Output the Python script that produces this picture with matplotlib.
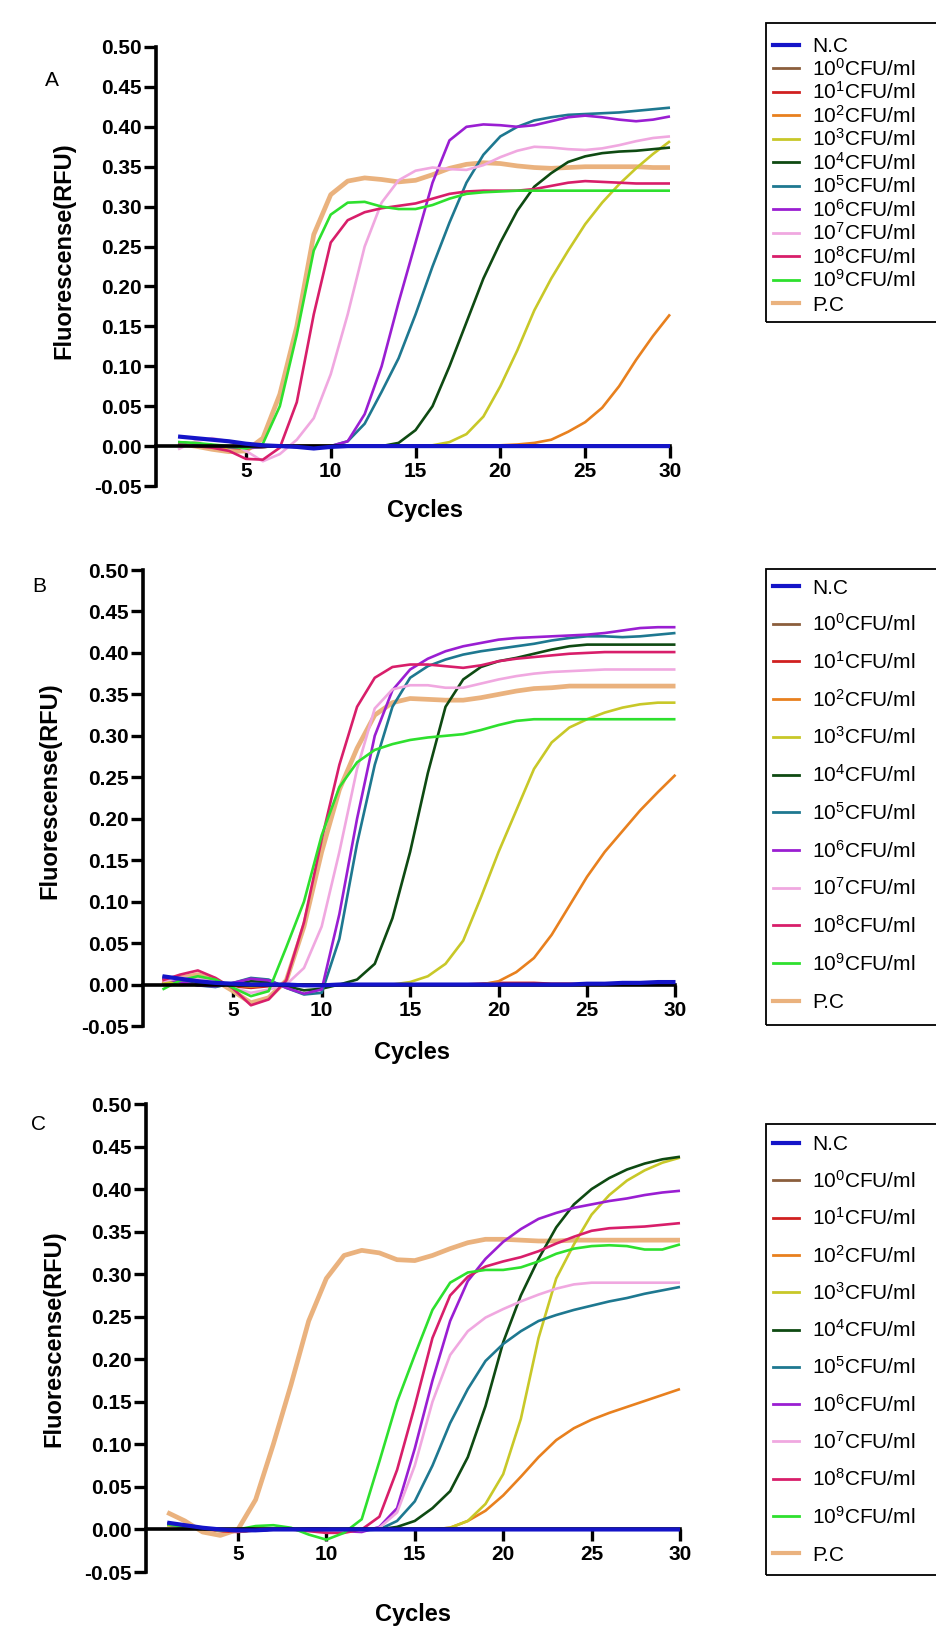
import matplotlib as mpl
mpl.use("Agg")
import matplotlib.pyplot as plt
from matplotlib.lines import Line2D
from matplotlib.patches import Rectangle

W, H = 937, 1627

mpl.rcParams.update({
    "font.family": "sans-serif",
    "font.sans-serif": ["Liberation Sans", "DejaVu Sans"],
    "mathtext.fontset": "custom",
    "mathtext.rm": "Liberation Sans",
    "mathtext.default": "regular",
    "axes.unicode_minus": False,
})

CYCLES = list(range(1, 31))
XTICKS = [5, 10, 15, 20, 25, 30]
YTICKS = [-0.05, 0.00, 0.05, 0.10, 0.15, 0.20, 0.25, 0.30, 0.35, 0.40, 0.45, 0.50]
YTICK_LABELS = ["-0.05", "0.00", "0.05", "0.10", "0.15", "0.20", "0.25",
                "0.30", "0.35", "0.40", "0.45", "0.50"]

SERIES = ["N.C", "1e0", "1e1", "1e2", "1e3", "1e4", "1e5", "1e6", "1e7", "1e8", "1e9", "P.C"]
LABELS = ["N.C"] + [f"10$^{{{k}}}$CFU/ml" for k in range(10)] + ["P.C"]
COLORS = ["#1414c8", "#8b5e3c", "#d02020", "#e8801e", "#c8c828", "#0e4a12",
          "#1e7890", "#9a1ed2", "#f0a8e0", "#d81e6a", "#2ee02e", "#eab27e"]

# ---- panel A ----
A_NC = [0.012, 0.010, 0.008, 0.006, 0.003, 0.001, 0.000, -0.001, -0.003, -0.001,
        0.000, 0.000, 0.000, 0.000, 0.000, 0.000, 0.000, 0.000, 0.000, 0.000,
        0.000, 0.000, 0.000, 0.000, 0.000, 0.000, 0.000, 0.000, 0.000, 0.000]
A_E0 = [0.004, 0.003, 0.001, -0.001, -0.002, -0.001, 0.000, 0.000, 0.000, 0.000,
        0.000, 0.000, 0.000, 0.000, 0.000, 0.000, 0.000, 0.000, 0.000, 0.000,
        0.000, 0.000, 0.000, 0.000, 0.000, 0.000, 0.000, 0.000, 0.000, 0.000]
A_E1 = [0.003, 0.002, 0.000, -0.002, -0.003, -0.001, 0.000, 0.000, 0.000, 0.000,
        0.000, 0.000, 0.000, 0.000, 0.000, 0.000, 0.000, 0.000, 0.000, 0.000,
        0.000, 0.000, 0.000, 0.000, 0.000, 0.000, 0.000, 0.000, 0.000, 0.000]
A_E2 = [0.002, 0.001, 0.000, -0.002, -0.002, -0.001, 0.000, 0.000, 0.000, 0.000,
        0.000, 0.000, 0.000, 0.000, 0.000, 0.000, 0.000, 0.000, 0.000, 0.001,
        0.002, 0.004, 0.008, 0.018, 0.030, 0.048, 0.075, 0.108, 0.138, 0.165]
A_E3 = [0.003, 0.002, 0.000, -0.002, -0.002, -0.001, 0.000, 0.000, 0.000, 0.000,
        0.000, 0.000, 0.000, 0.000, 0.000, 0.001, 0.005, 0.015, 0.037, 0.075,
        0.120, 0.170, 0.210, 0.245, 0.278, 0.305, 0.328, 0.348, 0.366, 0.382]
A_E4 = [0.004, 0.003, 0.001, -0.001, -0.002, -0.001, 0.000, 0.000, 0.000, 0.000,
        0.000, 0.000, 0.000, 0.004, 0.020, 0.050, 0.100, 0.155, 0.210, 0.255,
        0.295, 0.325, 0.342, 0.356, 0.363, 0.367, 0.369, 0.370, 0.372, 0.374]
A_E5 = [0.005, 0.003, 0.001, -0.001, -0.002, -0.001, 0.000, -0.001, -0.002, 0.000,
        0.006, 0.028, 0.068, 0.110, 0.165, 0.225, 0.280, 0.330, 0.365, 0.388,
        0.400, 0.408, 0.412, 0.415, 0.416, 0.417, 0.418, 0.420, 0.422, 0.424]
A_E6 = [0.004, 0.003, 0.001, -0.001, -0.002, -0.001, 0.000, -0.001, -0.003, 0.000,
        0.006, 0.040, 0.100, 0.180, 0.255, 0.330, 0.383, 0.400, 0.403, 0.402,
        0.400, 0.402, 0.407, 0.412, 0.414, 0.412, 0.409, 0.407, 0.409, 0.413]
A_E7 = [-0.004, 0.006, 0.010, 0.006, -0.006, -0.019, -0.010, 0.008, 0.035, 0.090,
        0.165, 0.250, 0.305, 0.333, 0.345, 0.349, 0.347, 0.346, 0.352, 0.362,
        0.370, 0.375, 0.374, 0.372, 0.371, 0.373, 0.377, 0.382, 0.386, 0.388]
A_E8 = [0.002, 0.000, -0.002, -0.006, -0.016, -0.017, -0.002, 0.055, 0.165, 0.255,
        0.283, 0.293, 0.298, 0.301, 0.304, 0.310, 0.316, 0.319, 0.320, 0.320,
        0.320, 0.322, 0.326, 0.330, 0.332, 0.331, 0.330, 0.329, 0.329, 0.329]
A_E9 = [0.005, 0.004, 0.002, 0.000, -0.003, 0.003, 0.050, 0.140, 0.245, 0.290,
        0.305, 0.306, 0.300, 0.297, 0.297, 0.302, 0.310, 0.316, 0.318, 0.319,
        0.320, 0.320, 0.320, 0.320, 0.320, 0.320, 0.320, 0.320, 0.320, 0.320]
A_PC = [0.003, 0.000, -0.004, -0.007, -0.006, 0.010, 0.065, 0.150, 0.265, 0.315,
        0.332, 0.336, 0.334, 0.331, 0.333, 0.340, 0.348, 0.353, 0.355, 0.354,
        0.351, 0.349, 0.348, 0.349, 0.350, 0.350, 0.350, 0.350, 0.349, 0.349]

# ---- panel B ----
B_NC = [0.010, 0.007, 0.004, 0.002, 0.001, 0.000, 0.000, 0.000, -0.001, -0.001,
        0.000, 0.000, 0.000, 0.000, 0.000, 0.000, 0.000, 0.000, 0.000, 0.000,
        0.000, 0.000, 0.000, 0.000, 0.001, 0.001, 0.002, 0.002, 0.003, 0.003]
B_E0 = [0.006, 0.004, 0.002, 0.000, -0.002, -0.003, -0.001, 0.000, 0.000, 0.000,
        0.000, 0.000, 0.000, 0.000, 0.000, 0.000, 0.000, 0.000, 0.000, 0.000,
        0.000, 0.000, 0.000, 0.000, 0.000, 0.000, 0.000, 0.000, 0.000, 0.000]
B_E1 = [0.004, 0.006, 0.005, 0.002, -0.002, -0.004, -0.002, 0.000, 0.000, 0.000,
        0.000, 0.000, 0.000, 0.000, 0.000, 0.000, 0.000, 0.000, 0.001, 0.002,
        0.002, 0.002, 0.001, 0.001, 0.000, 0.000, 0.000, 0.000, 0.000, 0.000]
B_E2 = [0.003, 0.002, 0.001, 0.000, -0.001, -0.002, -0.001, 0.000, 0.000, 0.000,
        0.000, 0.000, 0.000, 0.000, 0.000, 0.000, 0.000, 0.000, 0.000, 0.004,
        0.015, 0.032, 0.060, 0.095, 0.130, 0.160, 0.185, 0.210, 0.232, 0.253]
B_E3 = [0.003, 0.002, 0.001, 0.000, -0.001, -0.002, -0.001, 0.000, 0.000, 0.000,
        0.000, 0.000, 0.000, 0.000, 0.003, 0.010, 0.025, 0.053, 0.105, 0.160,
        0.210, 0.260, 0.292, 0.310, 0.320, 0.328, 0.334, 0.338, 0.340, 0.340]
B_E4 = [0.008, 0.004, 0.000, -0.002, 0.000, 0.004, 0.003, -0.002, -0.007, -0.005,
        0.000, 0.006, 0.025, 0.080, 0.160, 0.255, 0.335, 0.368, 0.383, 0.390,
        0.394, 0.399, 0.404, 0.408, 0.410, 0.410, 0.410, 0.410, 0.410, 0.410]
B_E5 = [0.010, 0.004, -0.001, -0.003, 0.002, 0.008, 0.006, -0.004, -0.012, -0.010,
        0.055, 0.170, 0.265, 0.335, 0.370, 0.384, 0.392, 0.398, 0.402, 0.405,
        0.408, 0.411, 0.415, 0.418, 0.420, 0.420, 0.419, 0.420, 0.422, 0.424]
B_E6 = [0.008, 0.003, -0.001, -0.002, 0.002, 0.007, 0.005, -0.004, -0.011, -0.006,
        0.085, 0.200, 0.300, 0.355, 0.380, 0.393, 0.402, 0.408, 0.412, 0.416,
        0.418, 0.419, 0.420, 0.421, 0.422, 0.424, 0.427, 0.430, 0.431, 0.431]
B_E7 = [0.004, 0.008, 0.008, 0.003, -0.004, -0.010, -0.006, 0.000, 0.020, 0.070,
        0.160, 0.260, 0.333, 0.356, 0.361, 0.361, 0.358, 0.358, 0.363, 0.368,
        0.372, 0.375, 0.377, 0.378, 0.379, 0.380, 0.380, 0.380, 0.380, 0.380]
B_E8 = [0.005, 0.012, 0.017, 0.008, -0.005, -0.025, -0.018, 0.005, 0.075, 0.175,
        0.265, 0.335, 0.370, 0.383, 0.386, 0.386, 0.384, 0.382, 0.385, 0.390,
        0.393, 0.395, 0.397, 0.399, 0.400, 0.401, 0.401, 0.401, 0.401, 0.401]
B_E9 = [-0.006, 0.005, 0.010, 0.006, -0.004, -0.014, -0.008, 0.045, 0.100, 0.180,
        0.238, 0.268, 0.283, 0.290, 0.295, 0.298, 0.300, 0.302, 0.307, 0.313,
        0.318, 0.320, 0.320, 0.320, 0.320, 0.320, 0.320, 0.320, 0.320, 0.320]
B_PC = [0.000, 0.008, 0.012, 0.005, -0.008, -0.022, -0.016, 0.005, 0.070, 0.160,
        0.235, 0.285, 0.325, 0.340, 0.345, 0.344, 0.343, 0.343, 0.346, 0.350,
        0.354, 0.357, 0.358, 0.360, 0.360, 0.360, 0.360, 0.360, 0.360, 0.360]

# ---- panel C ----
C_NC = [0.008, 0.005, 0.002, 0.000, -0.001, -0.001, 0.000, 0.000, 0.000, 0.000,
        0.000, 0.000, 0.000, 0.000, 0.000, 0.000, 0.000, 0.000, 0.000, 0.000,
        0.000, 0.000, 0.000, 0.000, 0.000, 0.000, 0.000, 0.000, 0.000, 0.000]
C_E0 = [0.006, 0.004, 0.001, -0.001, -0.002, -0.001, 0.000, 0.000, 0.000, 0.000,
        0.000, 0.000, 0.000, 0.000, 0.000, 0.000, 0.000, 0.000, 0.000, 0.000,
        0.000, 0.000, 0.000, 0.000, 0.000, 0.000, 0.000, 0.000, 0.000, 0.000]
C_E1 = [0.007, 0.004, 0.001, -0.002, -0.003, -0.001, 0.000, 0.000, 0.000, 0.000,
        0.000, 0.000, 0.000, 0.000, 0.000, 0.000, 0.000, 0.000, 0.000, 0.000,
        0.000, 0.000, 0.000, 0.000, 0.000, 0.000, 0.000, 0.000, 0.000, 0.000]
C_E2 = [0.005, 0.003, 0.001, -0.001, -0.002, -0.001, 0.000, 0.000, 0.000, 0.000,
        0.000, 0.000, 0.000, 0.000, 0.000, 0.000, 0.002, 0.010, 0.022, 0.040,
        0.062, 0.085, 0.105, 0.119, 0.129, 0.137, 0.144, 0.151, 0.158, 0.165]
C_E3 = [0.005, 0.003, 0.001, -0.001, -0.002, -0.001, 0.000, 0.000, 0.000, 0.000,
        0.000, 0.000, 0.000, 0.000, 0.000, 0.000, 0.002, 0.010, 0.030, 0.065,
        0.130, 0.225, 0.295, 0.335, 0.370, 0.393, 0.410, 0.422, 0.431, 0.437]
C_E4 = [0.006, 0.003, 0.001, -0.001, -0.002, -0.001, 0.000, 0.000, 0.000, 0.000,
        0.000, 0.000, 0.000, 0.003, 0.010, 0.025, 0.045, 0.085, 0.145, 0.220,
        0.275, 0.318, 0.355, 0.382, 0.400, 0.413, 0.423, 0.430, 0.435, 0.438]
C_E5 = [0.007, 0.004, 0.001, -0.001, -0.002, -0.001, 0.000, 0.000, -0.001, -0.002,
        -0.002, -0.001, 0.000, 0.010, 0.033, 0.075, 0.125, 0.165, 0.198, 0.218,
        0.233, 0.245, 0.252, 0.258, 0.263, 0.268, 0.272, 0.277, 0.281, 0.285]
C_E6 = [0.007, 0.004, 0.001, -0.001, -0.002, -0.001, 0.000, 0.000, 0.001, 0.001,
        -0.002, -0.003, 0.003, 0.025, 0.095, 0.175, 0.245, 0.292, 0.318, 0.338,
        0.353, 0.365, 0.372, 0.378, 0.382, 0.386, 0.389, 0.393, 0.396, 0.398]
C_E7 = [0.006, 0.003, 0.001, -0.001, -0.002, -0.001, 0.000, 0.000, 0.000, -0.001,
        -0.002, -0.001, 0.002, 0.020, 0.075, 0.150, 0.205, 0.233, 0.249, 0.259,
        0.268, 0.276, 0.283, 0.288, 0.290, 0.290, 0.290, 0.290, 0.290, 0.290]
C_E8 = [0.006, 0.003, 0.001, -0.001, -0.002, -0.001, 0.000, 0.000, -0.002, -0.004,
        -0.004, 0.000, 0.015, 0.070, 0.145, 0.225, 0.275, 0.297, 0.309, 0.315,
        0.320, 0.327, 0.336, 0.344, 0.351, 0.354, 0.355, 0.356, 0.358, 0.360]
C_E9 = [0.006, 0.003, 0.001, -0.001, 0.000, 0.004, 0.005, 0.002, -0.006, -0.012,
        -0.004, 0.012, 0.080, 0.150, 0.205, 0.258, 0.290, 0.302, 0.305, 0.305,
        0.308, 0.315, 0.324, 0.330, 0.333, 0.334, 0.333, 0.329, 0.329, 0.335]
C_PC = [0.020, 0.010, -0.003, -0.007, 0.000, 0.035, 0.100, 0.170, 0.245, 0.295,
        0.322, 0.328, 0.325, 0.317, 0.316, 0.322, 0.330, 0.337, 0.341, 0.341,
        0.340, 0.339, 0.339, 0.340, 0.340, 0.340, 0.340, 0.340, 0.340, 0.340]

PANELS = [
    ("A", [A_NC, A_E0, A_E1, A_E2, A_E3, A_E4, A_E5, A_E6, A_E7, A_E8, A_E9, A_PC]),
    ("B", [B_NC, B_E0, B_E1, B_E2, B_E3, B_E4, B_E5, B_E6, B_E7, B_E8, B_E9, B_PC]),
    ("C", [C_NC, C_E0, C_E1, C_E2, C_E3, C_E4, C_E5, C_E6, C_E7, C_E8, C_E9, C_PC]),
]

# layout, in pixels of the 937x1627 figure
AX_PX = {  # left, right, top, bottom, xmin
    "A": (156, 670, 47, 486, -0.3),
    "B": (143, 675.5, 570, 1026, -0.1),
    "C": (146, 680, 1104, 1572, -0.2),
}
LETTER_PX = {"A": (52, 81), "B": (39, 587), "C": (39, 1124)}
XLABEL_PX = {"A": (425, 510), "B": (412, 1052), "C": (413, 1615)}
YLABEL_PX = {"A": (64, 251), "B": (50, 791), "C": (54, 1339)}
LEGEND_PX = {  # box top, box bottom, first row y, row step
    "A": (23, 322, 44.6, 23.5),
    "B": (569, 1025, 586, 37.7),
    "C": (1124, 1575, 1143, 37.3),
}


def fx(x):
    return x / W


def fy(y):
    return 1 - y / H


fig = plt.figure(figsize=(W / 100, H / 100), dpi=100)

for name, values in PANELS:
    left, right, top, bottom, xmin = AX_PX[name]
    ax = fig.add_axes([fx(left), fy(bottom), (right - left) / W, (bottom - top) / H])

    # P.C underneath, N.C on top
    order = [11] + list(range(1, 11)) + [0]
    for i in order:
        lw = 3.4 if i == 11 else (3.0 if i == 0 else 1.9)
        z = 2 if i == 11 else (5 if i == 0 else 3)
        ax.plot(CYCLES, values[i], color=COLORS[i], lw=lw, zorder=z,
                solid_capstyle="butt", clip_on=False)

    ax.set_xlim(xmin, 30)
    ax.set_ylim(-0.05, 0.5)
    ax.set_xticks(XTICKS)
    ax.set_yticks(YTICKS)
    ax.set_yticklabels(YTICK_LABELS)
    ax.spines["top"].set_visible(False)
    ax.spines["right"].set_visible(False)
    ax.spines["bottom"].set_position(("data", 0))
    for s in ("left", "bottom"):
        ax.spines[s].set_linewidth(2.6)
        ax.spines[s].set_zorder(4)
    ax.tick_params(axis="both", direction="out", length=8.5, width=2.4,
                   labelsize=15, pad=2)
    ax.tick_params(axis="x", pad=3)
    for lab in ax.get_xticklabels() + ax.get_yticklabels():
        lab.set_fontweight("bold")
    ax.patch.set_alpha(0)

    lx, ly = LETTER_PX[name]
    fig.text(fx(lx), fy(ly), name, fontsize=15, ha="center", va="center")
    cx, cy = XLABEL_PX[name]
    fig.text(fx(cx), fy(cy), "Cycles", fontsize=17, fontweight="bold",
             ha="center", va="center")
    yx, yy = YLABEL_PX[name]
    fig.text(fx(yx), fy(yy), "Fluorescense(RFU)", fontsize=17, fontweight="bold",
             rotation=90, ha="center", va="center")

    # legend box, cut off at the right edge like the original
    btop, bbot, row0, step = LEGEND_PX[name]
    fig.add_artist(Rectangle((fx(766), fy(bbot)), fx(1000 - 766), (bbot - btop) / H,
                             transform=fig.transFigure, fill=False,
                             edgecolor="black", lw=1.3))
    for i, label in enumerate(LABELS):
        y = row0 + i * step
        lw = 3.0 if i in (0, 11) else 2.0
        fig.add_artist(Line2D([fx(773), fx(799)], [fy(y), fy(y)],
                              transform=fig.transFigure, color=COLORS[i], lw=lw))
        fig.text(fx(812), fy(y + 7.5), label, fontsize=15, ha="left", va="baseline")

fig.savefig("out.png", dpi=100)
